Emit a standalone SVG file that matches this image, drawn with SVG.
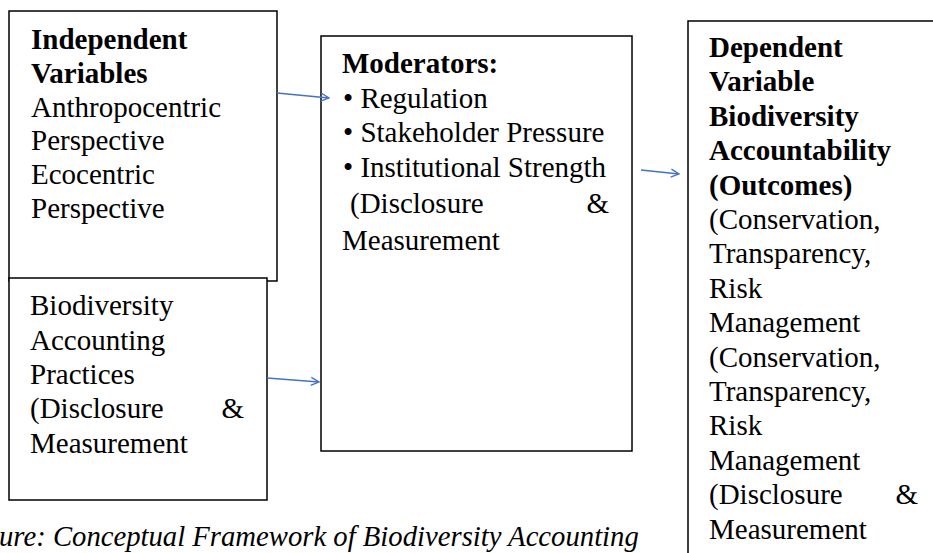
<svg xmlns="http://www.w3.org/2000/svg" width="933" height="553" viewBox="0 0 933 553">
<defs>
<style>
.box{fill:#fff;stroke:#000;stroke-width:1.5}
.t{font-family:"Liberation Serif","Times New Roman",serif;font-size:29px;fill:#000}
.b{font-weight:bold}
.cap{font-family:"Liberation Serif","Times New Roman",serif;font-size:28.7px;font-style:italic;fill:#000}
.con{stroke:#4472C4;stroke-width:1.4;fill:none}
</style>
<marker id="ah" viewBox="0 0 10 10" refX="9" refY="5" markerWidth="10" markerHeight="10" markerUnits="userSpaceOnUse" orient="auto">
<path d="M1,1 L9,5 L1,9" fill="none" stroke="#4472C4" stroke-width="1.4"/>
</marker>
</defs>
<rect width="933" height="553" fill="#fff"/>
<g id="independent">
<rect class="box" x="9" y="11" width="268" height="270"/>
<text class="t b" x="31" y="49">Independent</text>
<text class="t b" x="31" y="83">Variables</text>
<text class="t" x="31" y="117">Anthropocentric</text>
<text class="t" x="31" y="150">Perspective</text>
<text class="t" x="31" y="184">Ecocentric</text>
<text class="t" x="31" y="218">Perspective</text>
</g>
<g id="practices">
<rect class="box" x="9" y="278" width="258" height="222"/>
<text class="t" x="30" y="315">Biodiversity</text>
<text class="t" x="30" y="350">Accounting</text>
<text class="t" x="30" y="384">Practices</text>
<text class="t" x="30" y="418">(Disclosure</text>
<text class="t" x="244" y="418" text-anchor="end">&amp;</text>
<text class="t" x="30" y="453">Measurement</text>
</g>
<g id="moderators">
<rect class="box" x="321" y="36" width="311" height="415"/>
<text class="t b" x="342" y="73">Moderators:</text>
<text class="t" x="343" y="108">• Regulation</text>
<text class="t" x="343" y="142">• Stakeholder Pressure</text>
<text class="t" x="343" y="177">• Institutional Strength</text>
<text class="t" x="350" y="213">(Disclosure</text>
<text class="t" x="609" y="213" text-anchor="end">&amp;</text>
<text class="t" x="342" y="250">Measurement</text>
</g>
<g id="dependent">
<rect class="box" x="688" y="21" width="270" height="560"/>
<text class="t b" x="709" y="57">Dependent</text>
<text class="t b" x="709" y="91.4">Variable</text>
<text class="t b" x="709" y="125.8">Biodiversity</text>
<text class="t b" x="709" y="160.2">Accountability</text>
<text class="t b" x="709" y="194.6">(Outcomes)</text>
<text class="t" x="709" y="229">(Conservation,</text>
<text class="t" x="709" y="263.4">Transparency,</text>
<text class="t" x="709" y="297.8">Risk</text>
<text class="t" x="709" y="332.2">Management</text>
<text class="t" x="709" y="366.6">(Conservation,</text>
<text class="t" x="709" y="401">Transparency,</text>
<text class="t" x="709" y="435.4">Risk</text>
<text class="t" x="709" y="469.8">Management</text>
<text class="t" x="709" y="504.2">(Disclosure</text>
<text class="t" x="918" y="504.2" text-anchor="end">&amp;</text>
<text class="t" x="709" y="538.6">Measurement</text>
</g>
<g id="connectors">
<line class="con" x1="277" y1="93" x2="329" y2="98" marker-end="url(#ah)"/>
<line class="con" x1="267" y1="378" x2="319" y2="382" marker-end="url(#ah)"/>
<line class="con" x1="641" y1="170" x2="679" y2="174" marker-end="url(#ah)"/>
</g>
<text class="cap" x="-1" y="546">ure: Conceptual Framework of Biodiversity Accounting</text>
</svg>
